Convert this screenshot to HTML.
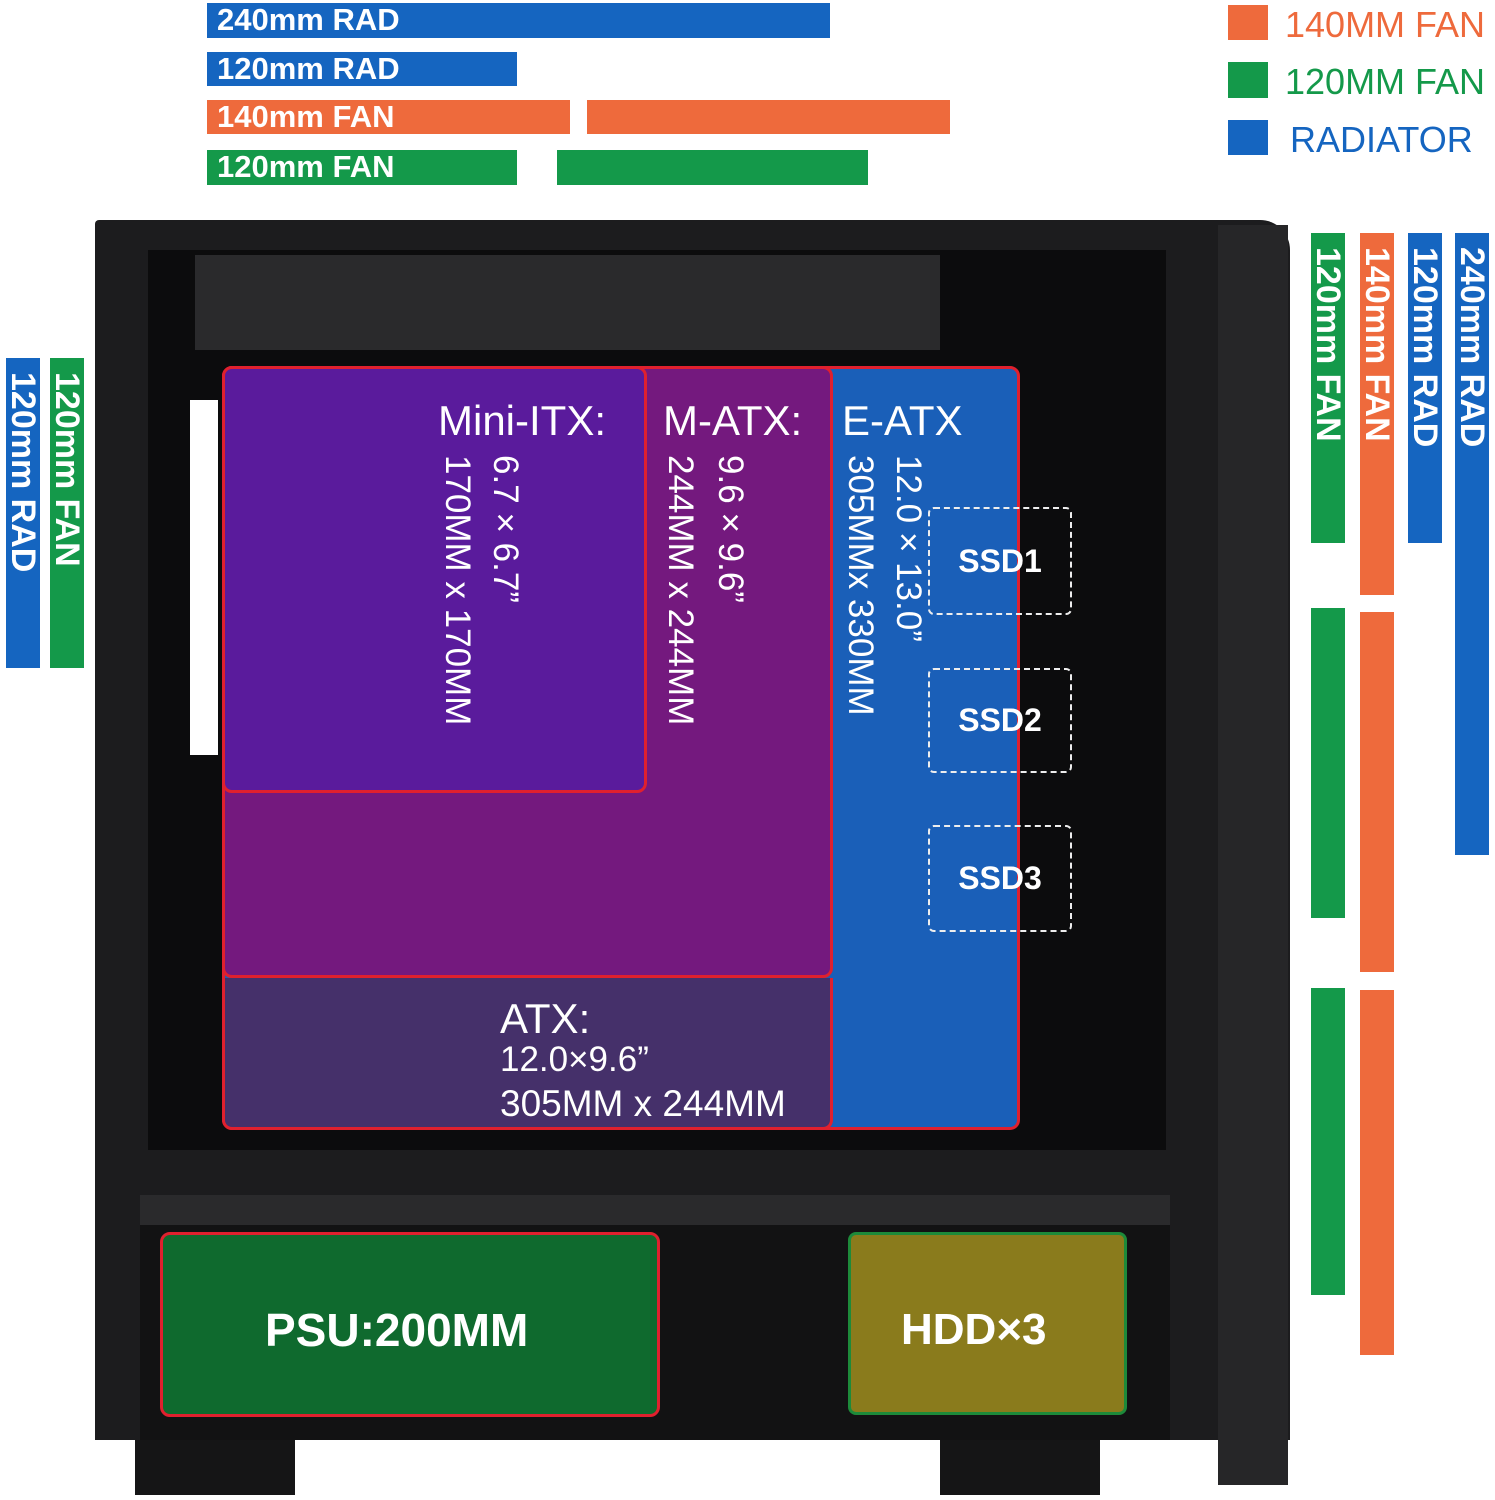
<!DOCTYPE html>
<html><head><meta charset="utf-8"><style>
*{margin:0;padding:0;box-sizing:border-box}
body{width:1495px;height:1500px;background:#fff;position:relative;overflow:hidden;font-family:"Liberation Sans",sans-serif}
.a{position:absolute}
.bar{position:absolute;color:#fff;font-weight:bold;font-size:31px;line-height:34px;padding-left:10px;white-space:nowrap}
.vbar{position:absolute;color:#fff;font-weight:bold;font-size:34px;writing-mode:vertical-rl;line-height:34px;padding-top:14px;white-space:nowrap}
.B{background:#1565c0}.O{background:#ee6a3c}.G{background:#14994a}
.t{position:absolute;color:#fff;font-size:42px;white-space:nowrap}
.v{position:absolute;color:#fff;font-size:35px;writing-mode:vertical-rl;white-space:nowrap;line-height:40px}
.ssd{position:absolute;border:2px dashed #eee;border-radius:6px;color:#fff;font-weight:bold;font-size:32px;display:flex;align-items:center;justify-content:center}
</style></head><body>
<div class="bar B" style="left:207px;top:3px;width:623px;height:35px">240mm RAD</div>
<div class="bar B" style="left:207px;top:52px;width:310px;height:34px">120mm RAD</div>
<div class="bar O" style="left:207px;top:100px;width:363px;height:34px">140mm FAN</div>
<div class="a O" style="left:587px;top:100px;width:363px;height:34px"></div>
<div class="bar G" style="left:207px;top:150px;width:310px;height:35px">120mm FAN</div>
<div class="a G" style="left:557px;top:150px;width:311px;height:35px"></div>

<div class="a O" style="left:1228px;top:5px;width:40px;height:35px"></div>
<div class="a" style="left:1285px;top:4px;font-size:36px;color:#ee6a3c">140MM FAN</div>
<div class="a G" style="left:1228px;top:62px;width:40px;height:36px"></div>
<div class="a" style="left:1285px;top:61px;font-size:36px;color:#14994a">120MM FAN</div>
<div class="a B" style="left:1228px;top:120px;width:40px;height:35px"></div>
<div class="a" style="left:1290px;top:119px;font-size:36px;color:#1565c0">RADIATOR</div>

<div class="a" style="left:95px;top:220px;width:1195px;height:1220px;background:#1c1c1e;border-radius:4px 30px 0 0"></div>
<div class="a" style="left:148px;top:250px;width:1018px;height:900px;background:#0c0c0d"></div>
<div class="a" style="left:195px;top:255px;width:745px;height:95px;background:#2a2a2c"></div>
<div class="a" style="left:1218px;top:225px;width:70px;height:1260px;background:#262628"></div>
<div class="a" style="left:140px;top:1195px;width:1030px;height:30px;background:#2a2a2c"></div>
<div class="a" style="left:140px;top:1225px;width:1030px;height:215px;background:#121213"></div>
<div class="a" style="left:135px;top:1440px;width:160px;height:55px;background:#151516"></div>
<div class="a" style="left:940px;top:1440px;width:160px;height:55px;background:#151516"></div>
<div class="a" style="left:190px;top:400px;width:28px;height:355px;background:#fff"></div>

<div class="a" style="left:222px;top:366px;width:798px;height:764px;background:#1a5fb8;border:3px solid #e0202e;border-radius:10px"></div>
<div class="a" style="left:222px;top:366px;width:611px;height:612px;background:#74197e;border:3px solid #e0202e;border-radius:10px"></div>
<div class="a" style="left:222px;top:978px;width:611px;height:152px;background:#45306a;border:3px solid #e0202e;border-top:none;border-radius:0 0 10px 10px"></div>
<div class="a" style="left:222px;top:366px;width:425px;height:427px;background:#5a1b9c;border:3px solid #e0202e;border-radius:10px"></div>

<div class="t" style="left:438px;top:397px">Mini-ITX:</div>
<div class="v" style="left:485px;top:455px">6.7×6.7”</div>
<div class="v" style="left:437px;top:455px">170MM x 170MM</div>
<div class="t" style="left:663px;top:397px">M-ATX:</div>
<div class="v" style="left:710px;top:455px">9.6×9.6”</div>
<div class="v" style="left:660px;top:455px">244MM x 244MM</div>
<div class="t" style="left:842px;top:397px">E-ATX</div>
<div class="v" style="left:888px;top:455px">12.0×13.0”</div>
<div class="v" style="left:840px;top:455px">305MMx 330MM</div>
<div class="t" style="left:500px;top:995px">ATX:</div>
<div class="t" style="left:500px;top:1040px;font-size:35px">12.0×9.6”</div>
<div class="t" style="left:500px;top:1083px;font-size:37px">305MM x 244MM</div>

<div class="ssd" style="left:928px;top:507px;width:144px;height:108px">SSD1</div>
<div class="ssd" style="left:928px;top:668px;width:144px;height:105px">SSD2</div>
<div class="ssd" style="left:928px;top:825px;width:144px;height:107px">SSD3</div>

<div class="a" style="left:160px;top:1232px;width:500px;height:185px;background:#0f6a2e;border:3px solid #e0202e;border-radius:10px;color:#fff;font-weight:bold;font-size:46px;padding:68px 0 0 102px">PSU:200MM</div>
<div class="a" style="left:848px;top:1232px;width:279px;height:183px;background:#8a7b1c;border:3px solid #1d8a3a;border-radius:8px;color:#fff;font-weight:bold;font-size:44px;padding:70px 0 0 50px">HDD×3</div>

<div class="vbar G" style="left:1311px;top:233px;width:34px;height:310px">120mm FAN</div>
<div class="vbar O" style="left:1360px;top:233px;width:34px;height:362px">140mm FAN</div>
<div class="vbar B" style="left:1408px;top:233px;width:34px;height:310px">120mm RAD</div>
<div class="vbar B" style="left:1455px;top:233px;width:34px;height:622px">240mm RAD</div>
<div class="a G" style="left:1311px;top:608px;width:34px;height:310px"></div>
<div class="a O" style="left:1360px;top:612px;width:34px;height:360px"></div>
<div class="a G" style="left:1311px;top:988px;width:34px;height:307px"></div>
<div class="a O" style="left:1360px;top:990px;width:34px;height:365px"></div>

<div class="vbar B" style="left:6px;top:358px;width:34px;height:310px">120mm RAD</div>
<div class="vbar G" style="left:50px;top:358px;width:34px;height:310px">120mm FAN</div>
</body></html>
